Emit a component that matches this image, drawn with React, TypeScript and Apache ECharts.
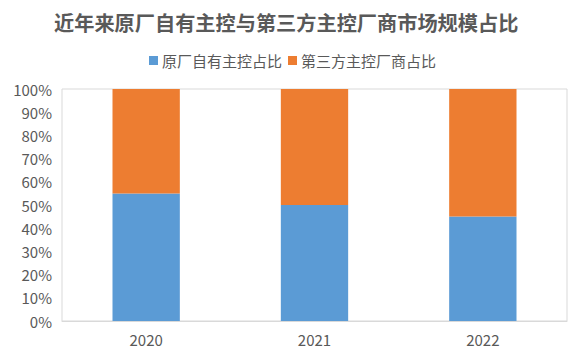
import React, { useEffect, useRef } from "react";
import * as echarts from "echarts";

const categories = ["2020", "2021", "2022"];
const ownShare = [55, 50, 45];
const thirdShare = [45, 50, 55];
const seriesNames = ["原厂自有主控占比", "第三方主控厂商占比"];
const titleText = "近年来原厂自有主控与第三方主控厂商市场规模占比";

export default function App() {
  const ref = useRef<HTMLDivElement>(null);
  useEffect(() => {
    if (!ref.current) return;
    const chart = echarts.init(ref.current, null, { renderer: "svg" });
    const font = "'Noto Sans CJK SC', 'Microsoft YaHei', sans-serif";
    chart.setOption({
      animation: false,
      backgroundColor: "#ffffff",
      textStyle: { fontFamily: font },
      title: {
        text: titleText,
        left: 49,
        top: 7,
        textStyle: { fontSize: 20.2, fontWeight: "bold", color: "#595959", fontFamily: font },
      },
      legend: {
        top: 48,
        left: 144,
        itemWidth: 9,
        itemHeight: 9,
        itemGap: 6,
        icon: "rect",
        textStyle: { fontSize: 15, color: "#595959", fontFamily: font, padding: [0, 0, 0, -1] },
        data: seriesNames,
      },
      grid: {
        left: 62,
        right: 13,
        top: 89,
        bottom: 33,
        show: true,
        borderColor: "#d9d9d9",
        borderWidth: 1,
      },
      xAxis: {
        type: "category",
        data: categories,
        axisLine: { show: true, lineStyle: { color: "#d9d9d9" } },
        axisTick: { show: false },
        axisLabel: { fontSize: 15, color: "#595959", margin: 11, fontFamily: font },
      },
      yAxis: {
        type: "value",
        min: 0,
        max: 100,
        interval: 10,
        axisLine: { show: false },
        axisTick: { show: false },
        splitLine: { show: false },
        axisLabel: { formatter: "{value}%", fontSize: 15, color: "#595959", margin: 10, fontFamily: font },
      },
      series: [
        {
          name: seriesNames[0],
          type: "bar",
          stack: "total",
          barWidth: "40%",
          data: ownShare,
          itemStyle: { color: "#5B9BD5" },
        },
        {
          name: seriesNames[1],
          type: "bar",
          stack: "total",
          barWidth: "40%",
          data: thirdShare,
          itemStyle: { color: "#ED7D31" },
        },
      ],
    });
    return () => chart.dispose();
  }, []);
  return (
    <div
      ref={ref}
      style={{ position: "absolute", left: 0, top: 0, width: 580, height: 354 }}
    />
  );
}
